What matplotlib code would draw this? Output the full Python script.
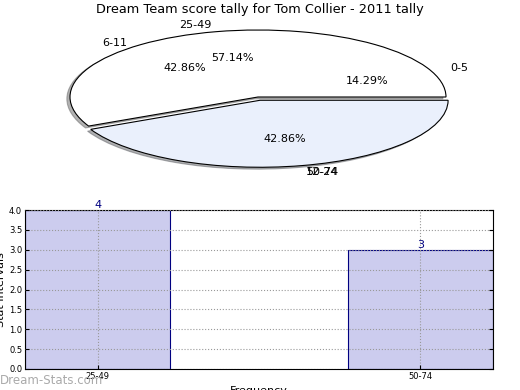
import matplotlib
matplotlib.use("Agg")
import matplotlib.pyplot as plt

# data
intervals = ["25-49", "50-74"]
counts = [4, 3]
# leftover labels that the original chart drew on top of the pie
extra_labels = ["6-11", "0-5"]
extra_label_pos = [(-0.76, 0.80), (1.07, 0.43)]
extra_pcts = ["42.86%", "14.29%"]
extra_pct_pos = [(-0.39, 0.43), (0.58, 0.24)]

title = "Dream Team score tally for Tom Collier - 2011 tally"

fig = plt.figure(figsize=(5.2, 3.9), dpi=100)

# pie (squashed into an ellipse)
ax1 = fig.add_axes([70 / 520, 1 - 164 / 390, 376 / 520, 134 / 390])
wedges, texts, autotexts = ax1.pie(
    counts, labels=intervals, explode=[0, 0.05],
    shadow=dict(ox=-0.012, oy=-0.02, shade=0.6),
    colors=["white", "#eaf0fc"], autopct="%.2f%%", startangle=0,
    counterclock=True, labeldistance=1.1, pctdistance=0.6,
    wedgeprops=dict(edgecolor="black", linewidth=0.8),
    textprops=dict(fontsize=8))
for (x, y), lab in zip(extra_label_pos, extra_labels):
    ax1.text(x, y, lab, fontsize=8, ha="center", va="center")
for (x, y), lab in zip(extra_pct_pos, extra_pcts):
    ax1.text(x, y, lab, fontsize=8, ha="center", va="center")
# "12-24" sits right on top of the "50-74" label in the original
lx, ly = texts[1].get_position()
ax1.text(lx, ly, "12-24", fontsize=8, ha=texts[1].get_ha(), va=texts[1].get_va())
ax1.set_aspect("auto")
ax1.set_xlim(-1, 1)
ax1.set_ylim(-1, 1)
ax1.axis("off")
fig.text(0.5, 1 - 10 / 390, title, ha="center", va="center", fontsize=9.3)

# bar chart
ax2 = fig.add_axes([25 / 520, 1 - 369 / 390, 468 / 520, 159 / 390])
xs = range(len(intervals))
ax2.bar(xs, counts, width=0.45, color="#ccccee", edgecolor="navy", linewidth=0.8)
for x, c in zip(xs, counts):
    ax2.text(x, c, str(c), ha="center", va="bottom", color="navy", fontsize=8)
ax2.set_xlim(-0.225, 1.225)
ax2.set_ylim(0, 4)
ax2.set_xticks(list(xs))
ax2.set_xticklabels(intervals)
ax2.set_yticks([i * 0.5 for i in range(9)])
ax2.tick_params(labelsize=6, direction="in", right=True, length=3, pad=2)
ax2.grid(True, linestyle=":", color="#999999", linewidth=0.8)
ax2.set_axisbelow(False)
ax2.set_ylabel("Stat Intervals", fontsize=8, labelpad=2)
ax2.set_xlabel("Frequency", fontsize=8, labelpad=4)

fig.text(0.0, 1 - 381 / 390, "Dream-Stats.com", color="#aaaaaa",
         fontsize=8.5, va="center", ha="left")

fig.savefig("out.png", dpi=100)
